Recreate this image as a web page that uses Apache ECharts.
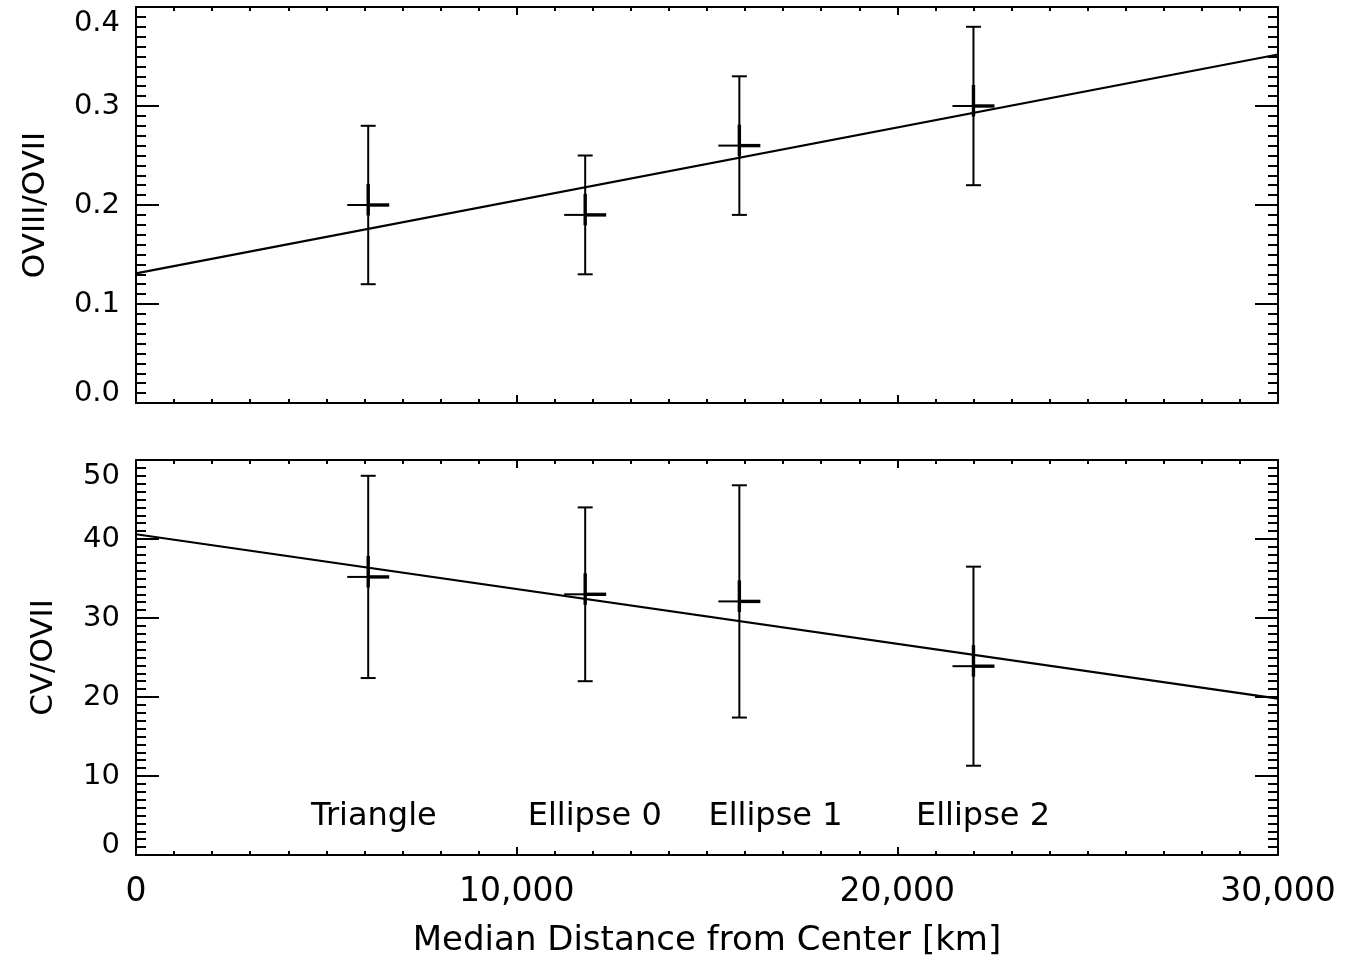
<!DOCTYPE html>
<html>
<head>
<meta charset="utf-8">
<script src="https://cdn.jsdelivr.net/npm/echarts@6/dist/echarts.min.js"></script>
<style>
html,body{margin:0;padding:0;background:#fff;}
#chart{width:1358px;height:964px;}
</style>
</head>
<body>
<div id="chart"></div>
<script>
// ---- data ----
const distances = [6100, 11800, 15850, 22000];           // km
const o8Ratio   = [0.20, 0.19, 0.26, 0.30];
const o8Low     = [0.12, 0.13, 0.19, 0.22];
const o8High    = [0.28, 0.25, 0.33, 0.38];
const cvRatio   = [35.2, 33.0, 32.1, 23.9];
const cvLow     = [22.4, 22.0, 17.4, 11.3];
const cvHigh    = [48.0, 44.0, 46.8, 36.5];
const fitX      = [0, 30000];
const fitO8     = [0.131, 0.352];
const fitCV     = [40.6, 19.8];
const regionNames = ['Triangle', 'Ellipse 0', 'Ellipse 1', 'Ellipse 2'];
const regionLabelX = [6250, 12050, 16800, 22250];
const regionLabelY = 4.8;

const FONT = '"DejaVu Sans", sans-serif';
const BLACK = '#000';

function errData(xs, ys, lo, hi) {
  return xs.map((x, i) => [x, ys[i], lo[i], hi[i]]);
}
function renderErr(params, api) {
  const x = api.value(0), y = api.value(1), lo = api.value(2), hi = api.value(3);
  const c = api.coord([x, y]);
  const l = api.coord([x, lo]);
  const h = api.coord([x, hi]);
  const cap = 7.5, arm = 21;
  const thin = {stroke: BLACK, lineWidth: 2};
  const thick = {stroke: BLACK, lineWidth: 3.4};
  return {
    type: 'group',
    children: [
      {type: 'line', shape: {x1: l[0], y1: l[1], x2: h[0], y2: h[1]}, style: thin},
      {type: 'line', shape: {x1: l[0] - cap, y1: l[1], x2: l[0] + cap, y2: l[1]}, style: thin},
      {type: 'line', shape: {x1: h[0] - cap, y1: h[1], x2: h[0] + cap, y2: h[1]}, style: thin},
      {type: 'line', shape: {x1: c[0] - arm, y1: c[1], x2: c[0], y2: c[1]}, style: thin},
      {type: 'line', shape: {x1: c[0], y1: c[1], x2: c[0] + arm, y2: c[1]}, style: thick},
      {type: 'line', shape: {x1: c[0], y1: c[1] - arm, x2: c[0], y2: c[1] + arm * 0.5}, style: thick}
    ]
  };
}

function xAxisDef(gridIndex, pos, showLabels) {
  return {
    type: 'value', gridIndex: gridIndex, position: pos,
    min: 0, max: 30000, interval: 10000,
    axisLine: {show: true, onZero: false, lineStyle: {color: BLACK, width: 2}},
    axisTick: {show: true, inside: true, length: 8, lineStyle: {color: BLACK, width: 2}},
    minorTick: {show: true, splitNumber: 10, length: 4, lineStyle: {color: BLACK, width: 2}},
    splitLine: {show: false}, minorSplitLine: {show: false},
    axisLabel: {
      show: showLabels, color: BLACK, fontFamily: FONT, fontSize: 33, margin: 21,
      formatter: v => v.toLocaleString('en-US')
    },
    name: (showLabels ? 'Median Distance from Center [km]' : ''),
    nameLocation: 'middle', nameGap: 69,
    nameTextStyle: {color: BLACK, fontFamily: FONT, fontSize: 34}
  };
}
function yAxisDef(gridIndex, pos, showLabels, min, max, interval, dec, title, gap) {
  return {
    type: 'value', gridIndex: gridIndex, position: pos,
    min: min, max: max, interval: interval,
    axisLine: {show: true, onZero: false, lineStyle: {color: BLACK, width: 2}},
    axisTick: {show: true, inside: true, length: 23, lineStyle: {color: BLACK, width: 2}},
    minorTick: {show: true, splitNumber: 10, length: 10, lineStyle: {color: BLACK, width: 2}},
    splitLine: {show: false}, minorSplitLine: {show: false},
    axisLabel: {
      show: showLabels, color: BLACK, fontFamily: FONT, fontSize: 29, margin: 16,
      formatter: v => {
        const s = v.toFixed(dec);
        if (Math.abs(v - min) < 1e-9) return '{lo|' + s + '}';
        if (Math.abs(v - max) < 1e-9) return '{hi|' + s + '}';
        return s;
      },
      rich: {
        lo: {fontFamily: FONT, fontSize: 29, color: BLACK, padding: [0, 0, 20, 0]},
        hi: {fontFamily: FONT, fontSize: 29, color: BLACK, padding: [32, 0, 0, 0]}
      }
    },
    name: showLabels ? title : '',
    nameLocation: 'middle', nameGap: gap, nameRotate: 90,
    nameTextStyle: {color: BLACK, fontFamily: FONT, fontSize: 31}
  };
}

const chart = echarts.init(document.getElementById('chart'), null, {renderer: 'canvas'});
chart.setOption({
  animation: false,
  backgroundColor: '#fff',
  grid: [
    {left: 136, top: 7, width: 1142, height: 396, containLabel: false},
    {left: 136, top: 460, width: 1142, height: 395, containLabel: false}
  ],
  xAxis: [
    xAxisDef(0, 'bottom', false),
    xAxisDef(0, 'top', false),
    xAxisDef(1, 'bottom', true),
    xAxisDef(1, 'top', false)
  ],
  yAxis: [
    yAxisDef(0, 'left', true, 0, 0.4, 0.1, 1, 'OVIII/OVII', 85),
    yAxisDef(0, 'right', false, 0, 0.4, 0.1, 1, '', 0),
    yAxisDef(1, 'left', true, 0, 50, 10, 0, 'CV/OVII', 77),
    yAxisDef(1, 'right', false, 0, 50, 10, 0, '', 0)
  ],
  series: [
    {
      type: 'line', xAxisIndex: 0, yAxisIndex: 0,
      data: fitX.map((x, i) => [x, fitO8[i]]),
      showSymbol: false, symbol: 'none',
      lineStyle: {color: BLACK, width: 2.2}
    },
    {
      type: 'custom', xAxisIndex: 0, yAxisIndex: 0,
      data: errData(distances, o8Ratio, o8Low, o8High),
      encode: {x: 0, y: [1, 2, 3]},
      renderItem: renderErr
    },
    {
      type: 'line', xAxisIndex: 2, yAxisIndex: 2,
      data: fitX.map((x, i) => [x, fitCV[i]]),
      showSymbol: false, symbol: 'none',
      lineStyle: {color: BLACK, width: 2.2}
    },
    {
      type: 'custom', xAxisIndex: 2, yAxisIndex: 2,
      data: errData(distances, cvRatio, cvLow, cvHigh),
      encode: {x: 0, y: [1, 2, 3]},
      renderItem: renderErr
    },
    {
      type: 'scatter', xAxisIndex: 2, yAxisIndex: 2,
      symbolSize: 1,
      itemStyle: {opacity: 1, color: 'rgba(0,0,0,0)'},
      data: regionNames.map((n, i) => ({name: n, value: [regionLabelX[i], regionLabelY]})),
      label: {
        show: true, position: 'inside', formatter: p => p.name, opacity: 1,
        color: BLACK, fontFamily: FONT, fontSize: 32
      }
    }
  ]
});
</script>
</body>
</html>
